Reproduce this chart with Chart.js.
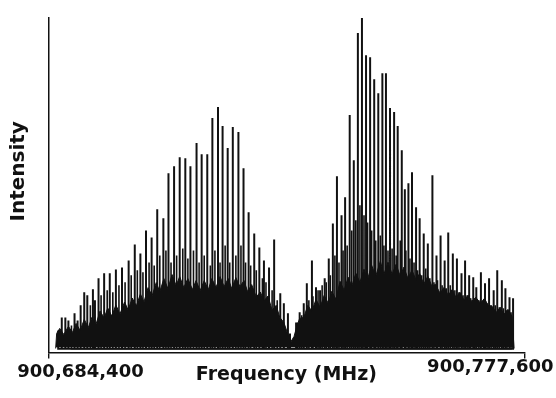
<!DOCTYPE html>
<html>
<head>
<meta charset="utf-8">
<script src="https://cdn.jsdelivr.net/npm/chart.js@4.4.1/dist/chart.umd.min.js"></script>
<style>
  html, body { margin: 0; padding: 0; background: #fff; }
  #wrap { position: relative; width: 556px; height: 398px; }
</style>
</head>
<body>
<div id="wrap"><canvas id="spectrum"></canvas></div>
<script>
// all frequencies are MHz above 900,684,400 (axis runs 900,684,400 .. 900,777,600)
const freqSpan = 93200;
const xTickLabels = ['900,684,400', '900,777,600'];
const floorLevel = 1.1;   // baseline of the trace
const noiseBase = 1.6;    // solid part of the noise starts just above it

// strong rotational lines (both bands)
const lineFreq = [
  1900, 2600, 3300, 3900, 5100, 5700, 6300, 7000, 7600, 8700,
  9100, 9800, 10900, 12000, 13200, 14400, 15700, 16900, 18000, 19100,
  20200, 21300, 22500, 23500, 24600, 25700, 26800, 27800, 29000, 30000,
  31100, 32100, 33200, 34100, 35100, 36100, 37200, 38200, 39200, 40300,
  41300, 42200, 43200, 44200, 45400, 46100, 46900,
  47300, 48500, 49200, 50000, 50600, 51600, 52400, 53200, 54100, 54900,
  55700, 56500, 57400, 58100, 59000, 59800, 60600, 61400, 62200, 63000,
  63800, 64600, 65400, 66100, 66900, 67700, 68400, 69200, 69800, 70500,
  71200, 72000, 72700, 73500, 74300, 75200, 76000, 76800, 77600, 78300,
  79200, 80000, 80900, 81600, 82400, 83200, 83800, 84700, 85500, 86300,
  87200, 87900, 88800, 89500, 90300, 91000
];
const lineIntensity = [
  6.6, 10.5, 10.5, 9.6, 11.7, 9.6, 14.1, 18.0, 17.1, 18.9,
  15.6, 22.2, 23.7, 23.7, 24.8, 25.4, 27.5, 32.3, 29.6, 36.5,
  34.4, 42.8, 40.1, 53.6, 55.7, 58.4, 58.1, 55.7, 62.6, 59.3,
  59.3, 70.1, 73.4, 67.7, 61.1, 67.4, 65.9, 55.1, 41.9, 35.6,
  31.4, 27.5, 25.4, 33.8, 17.7, 14.7, 11.7,
  5.7, 9.0, 12.0, 14.7, 20.7, 27.5, 19.5, 18.6, 22.2, 28.1,
  38.6, 52.7, 41.0, 46.4, 71.0, 57.5, 95.5, 100, 88.9, 88.3,
  81.7, 77.5, 83.5, 83.5, 73.1, 71.9, 67.7, 60.5, 48.8, 50.6,
  53.9, 43.4, 40.1, 35.6, 32.6, 53.0, 29.0, 35.0, 27.5, 35.9,
  29.6, 28.1, 23.7, 27.5, 23.1, 22.5, 19.5, 24.0, 20.7, 22.2,
  18.6, 24.6, 21.6, 19.2, 16.5, 16.2
];

// weaker lines in between
const weakLineFreq = [
  4500, 8200, 10300, 11500, 12600, 13800, 15000, 16200, 17400, 18500,
  19700, 20700, 21800, 23000, 24000, 25100, 26300, 27300, 28400, 29500,
  30500, 31700, 32600, 33600, 34600, 35500, 36700, 37700, 38600, 39600,
  40700, 41900, 42600, 43800, 44800,
  48800, 49600, 51000, 51800, 52800, 53600, 54400, 55200, 56100, 56900,
  57700, 58500, 59400, 60200, 61000, 61800, 62500, 63300, 64100, 65000,
  65700, 66500, 67300, 68100, 68900, 70000, 70800, 71600, 72300, 73100,
  73900, 74700, 75500, 76200, 77100, 77900, 78700, 79600, 80400, 81200,
  82000, 82700, 83500, 84300, 85200, 85900, 86700, 87500, 88300, 89100,
  89800, 90600
];
const weakLineIntensity = [
  8.1, 14.1, 17.1, 18.6, 18.0, 20.1, 21.0, 23.1, 24.6, 24.0,
  26.9, 26.0, 29.0, 30.5, 26.9, 29.0, 31.1, 28.1, 30.5, 26.9,
  29.0, 26.0, 30.5, 26.9, 32.0, 26.9, 29.0, 32.0, 26.9, 26.0,
  24.6, 22.2, 21.0, 18.6, 15.6,
  9.0, 11.1, 15.6, 16.8, 18.6, 20.1, 21.0, 23.1, 29.0, 26.9,
  30.5, 32.0, 36.5, 39.5, 44.0, 41.0, 38.9, 36.5, 33.5, 35.0,
  32.0, 30.5, 31.1, 29.0, 33.5, 30.5, 28.1, 26.9, 24.6, 23.1,
  25.1, 22.2, 21.0, 21.6, 20.1, 19.2, 20.1, 18.6, 18.0, 17.1,
  17.1, 16.2, 15.6, 15.6, 15.0, 14.7, 14.1, 14.1, 13.5, 13.2,
  12.6, 12.0
];

// top of the dense noise band
const noiseFreq = [
  1400, 1600, 2200, 3000, 3900, 4700, 5400, 6200, 7000, 7800,
  8500, 9300, 10100, 10900, 11600, 12400, 13200, 14000, 14900, 15600,
  16400, 17200, 18000, 18700, 19500, 20300, 21100, 21800, 22600, 23400,
  24200, 25000, 25700, 26500, 27300, 28200, 28900, 29700, 30500, 31300,
  32000, 32800, 33600, 34400, 35200, 35900, 36700, 37500, 38300, 39000,
  39800, 40700, 41500, 42200, 43000, 43800, 44600, 45300, 46100, 46900,
  47500, 48100, 48700, 49200, 50000, 50800, 51600, 52400, 53200, 54000,
  54800, 55500, 56300, 57100, 57900, 58700, 59400, 60200, 61000, 61800,
  62500, 63300, 64100, 65000, 65700, 66500, 67300, 68100, 68900, 69600,
  70400, 71200, 72000, 72700, 73500, 74300, 75100, 75800, 76700, 77500,
  78300, 79100, 79800, 80600, 81400, 82200, 82900, 83700, 84600, 85400,
  86100, 86900, 87700, 88500, 89200, 90000, 90800, 91200
];
const noiseTop = [
  1.2, 5.7, 7.2, 5.4, 7.8, 6.0, 8.7, 6.6, 9.9, 7.5,
  10.5, 8.4, 12.4, 10.3, 13.3, 10.9, 14.2, 11.5, 15.1, 12.7,
  16.3, 13.9, 17.5, 15.1, 19.4, 17.0, 20.9, 18.2, 22.1, 19.1,
  23.3, 20.0, 22.7, 19.4, 22.1, 18.8, 21.5, 18.5, 21.5, 18.8,
  22.1, 19.4, 22.7, 19.7, 22.1, 19.1, 22.4, 19.7, 21.5, 18.2,
  20.3, 16.6, 18.1, 15.4, 16.9, 12.6, 14.1, 10.5, 9.0, 5.4,
  3.3, 4.8, 8.1, 10.2, 10.5, 14.1, 12.3, 15.9, 13.5, 17.1,
  14.7, 18.3, 15.9, 21.3, 18.6, 22.5, 19.8, 23.7, 21.0, 24.9,
  21.9, 26.1, 22.8, 27.3, 23.4, 27.0, 23.4, 26.4, 22.8, 25.5,
  22.2, 24.6, 21.6, 23.7, 20.4, 22.8, 19.8, 20.4, 17.7, 19.5,
  17.1, 18.9, 16.5, 18.0, 15.6, 17.1, 15.3, 16.5, 14.7, 16.2,
  14.1, 13.8, 12.0, 13.5, 11.4, 12.9, 10.8, 1.2
];

const ink = '#111';
const font = 'DejaVu Sans';

// each line is drawn as a vertical stick up from the baseline
function sticks(freqs, heights) {
  const pts = [];
  freqs.forEach((f, i) => {
    pts.push({ x: f, y: floorLevel }, { x: f, y: heights[i] }, { x: f, y: floorLevel });
  });
  return pts;
}

// end labels sit off-centre from the axis ends, as in the figure
const edgeLabels = {
  id: 'edgeLabels',
  afterDraw(chart) {
    const { ctx, scales: { x } } = chart;
    ctx.save();
    ctx.font = `bold 18px "${font}"`;
    ctx.fillStyle = ink;
    ctx.textAlign = 'center';
    ctx.textBaseline = 'middle';
    ctx.fillText(xTickLabels[0], x.getPixelForValue(0) + 32, x.top + 19.5);
    ctx.fillText(xTickLabels[1], x.getPixelForValue(freqSpan) - 34, x.top + 14.7);
    ctx.restore();
  }
};

new Chart(document.getElementById('spectrum'), {
  type: 'scatter',
  data: {
    datasets: [
      {
        data: noiseFreq.map((f, i) => ({ x: f, y: noiseTop[i] })),
        showLine: true,
        fill: { value: noiseBase },
        backgroundColor: ink,
        borderColor: ink,
        borderWidth: 1,
        pointRadius: 0
      },
      {
        data: sticks(weakLineFreq, weakLineIntensity),
        showLine: true,
        borderColor: ink,
        borderWidth: 1.6,
        pointRadius: 0
      },
      {
        data: sticks(lineFreq, lineIntensity),
        showLine: true,
        borderColor: ink,
        borderWidth: 2,
        pointRadius: 0
      }
    ]
  },
  options: {
    responsive: true,
    maintainAspectRatio: false,
    animation: false,
    events: [],
    layout: { padding: { top: 18, right: 31.7, left: 0, bottom: 0 } },
    plugins: {
      legend: { display: false },
      tooltip: { enabled: false }
    },
    scales: {
      x: {
        type: 'linear',
        min: 0,
        max: freqSpan,
        afterBuildTicks: s => { s.ticks = [{ value: 0 }, { value: freqSpan }]; },
        afterFit: s => { s.height = 45.5; },
        grid: { display: true, drawOnChartArea: false, drawTicks: true, tickLength: 6, color: ink, lineWidth: 1.4 },
        border: { display: true, color: ink, width: 1.5 },
        ticks: { display: false },
        title: {
          display: true,
          text: 'Frequency (MHz)',
          color: ink,
          font: { family: font, weight: 'bold', size: 19 },
          padding: { top: 0, bottom: 11.6 }
        }
      },
      y: {
        type: 'linear',
        min: 0,
        max: 100,
        afterFit: s => { s.width = 48.5; },
        grid: { display: false },
        border: { display: true, color: ink, width: 1.5 },
        ticks: { display: false },
        title: {
          display: true,
          text: '    Intensity', // leading spaces lift it a little above centre
          color: ink,
          font: { family: font, weight: 'bold', size: 20 },
          padding: { top: 7, bottom: 0 }
        }
      }
    }
  },
  plugins: [edgeLabels]
});
</script>
</body>
</html>
